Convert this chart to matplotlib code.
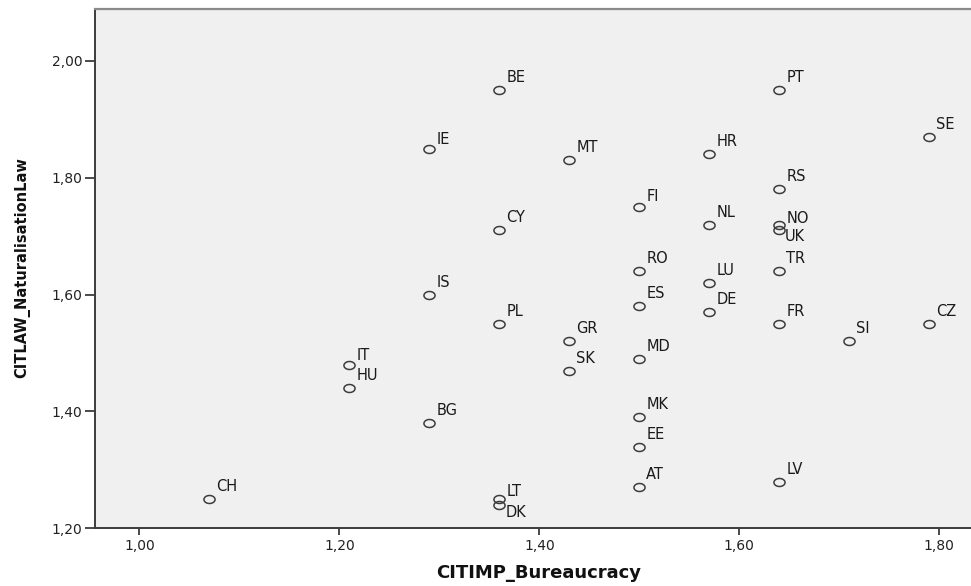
import numpy as np
import matplotlib.pyplot as plt
from matplotlib.path import Path
from matplotlib.ticker import FixedLocator, FuncFormatter

# country codes with (bureaucracy, naturalisation law) scores
countries = ['CH', 'IT', 'HU', 'BG', 'IS', 'IE', 'BE', 'CY', 'PL', 'LT', 'DK',
             'MT', 'GR', 'SK', 'FI', 'RO', 'ES', 'MD', 'MK', 'EE', 'AT',
             'HR', 'NL', 'LU', 'DE', 'PT', 'RS', 'NO', 'UK', 'TR', 'FR', 'LV',
             'SI', 'SE', 'CZ']
bureaucracy = [1.07, 1.21, 1.21, 1.29, 1.29, 1.29, 1.36, 1.36, 1.36, 1.36, 1.36,
               1.43, 1.43, 1.43, 1.50, 1.50, 1.50, 1.50, 1.50, 1.50, 1.50,
               1.57, 1.57, 1.57, 1.57, 1.64, 1.64, 1.64, 1.64, 1.64, 1.64, 1.64,
               1.71, 1.79, 1.79]
naturalisation = [1.25, 1.48, 1.44, 1.38, 1.60, 1.85, 1.95, 1.71, 1.55, 1.25, 1.24,
                  1.83, 1.52, 1.47, 1.75, 1.64, 1.58, 1.49, 1.39, 1.34, 1.27,
                  1.84, 1.72, 1.62, 1.57, 1.95, 1.78, 1.72, 1.71, 1.64, 1.55, 1.28,
                  1.52, 1.87, 1.55]

x_ticks = [1.00, 1.20, 1.40, 1.60, 1.80]
y_ticks = [1.20, 1.40, 1.60, 1.80, 2.00]

# label placement in pixels (default: up and right of the marker)
default_offset = (7, 8)
label_offsets = {'NO': (7, 2), 'UK': (5, -11), 'DK': (6, -12), 'LT': (7, 3),
                 'FI': (7, 6), 'IT': (7, 5), 'IE': (7, 5)}

# SPSS draws slightly flattened open circles
t = np.linspace(0, 2 * np.pi, 60)
ellipse = Path(np.column_stack([np.cos(t), 0.72 * np.sin(t)]), closed=True)

fig = plt.figure(figsize=(9.71, 5.86), dpi=100)
ax = fig.add_axes([94.7 / 971, 1 - 528.3 / 586, 1 - 94.7 / 971, (528.3 - 9) / 586])
ax.set_facecolor('#f0f0f0')

ax.plot(bureaucracy, naturalisation, linestyle='none', marker=ellipse,
        markersize=8, markerfacecolor='none', markeredgecolor='#3c3c3c',
        markeredgewidth=1.1)

for code, xv, yv in zip(countries, bureaucracy, naturalisation):
    ax.annotate(code, (xv, yv), xytext=label_offsets.get(code, default_offset),
                textcoords='offset pixels', ha='left', va='baseline',
                fontsize=10.5, color='#1a1a1a', family='DejaVu Sans')

ax.set_xlim(0.9553, 1.8317)
ax.set_ylim(1.20, 2.089)

fmt = FuncFormatter(lambda v, pos: f'{v:.2f}'.replace('.', ','))
ax.xaxis.set_major_locator(FixedLocator(x_ticks))
ax.yaxis.set_major_locator(FixedLocator(y_ticks))
ax.xaxis.set_major_formatter(fmt)
ax.yaxis.set_major_formatter(fmt)
ax.tick_params(axis='x', length=5, width=1.3, pad=3, labelsize=10,
               color='#3c3c3c', labelcolor='#222222')
ax.tick_params(axis='y', length=7, width=1.3, pad=2, labelsize=10,
               color='#3c3c3c', labelcolor='#222222')

for side in ['left', 'bottom']:
    ax.spines[side].set_color('#3c3c3c')
    ax.spines[side].set_linewidth(1.4)
ax.spines['top'].set_color('#8a8a8a')
ax.spines['top'].set_linewidth(1.6)
ax.spines['right'].set_visible(False)

fig.text(539 / 971, 1 - 573.5 / 586, 'CITIMP_Bureaucracy', ha='center',
         va='center', fontsize=13, fontweight='bold', color='#111111')
fig.text(22 / 971, 1 - 268 / 586, 'CITLAW_NaturalisationLaw', ha='center',
         va='center', rotation=90, fontsize=10.5, fontweight='bold',
         color='#111111')

fig.savefig('out.png', dpi=100)
